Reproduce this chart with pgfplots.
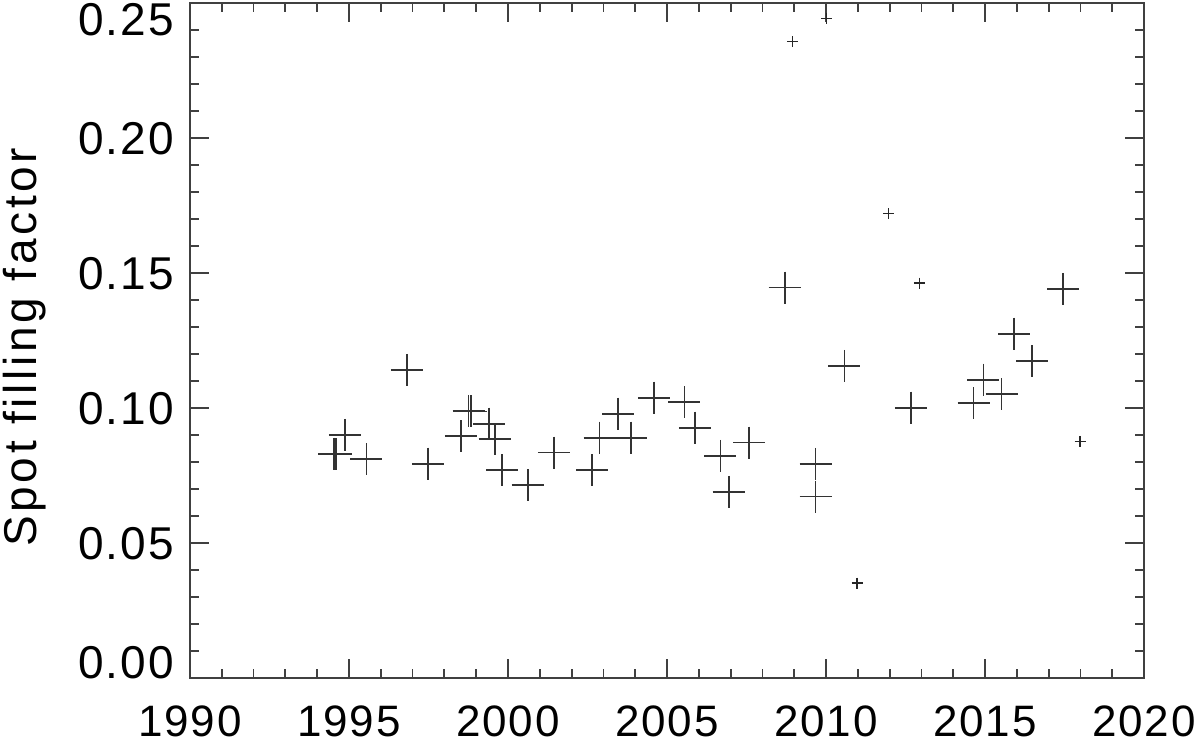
\documentclass[border=0pt]{standalone}
\usepackage{fontspec}
\setmainfont{Liberation Sans}[LetterSpace=4]
\newfontfamily\ylabfont{Liberation Sans}[LetterSpace=8]
\usepackage{pgfplots}
\pgfplotsset{compat=1.18}

% small tables, one per marker size
\pgfplotstableread{
x        y
1994.53  0.0831
1994.60  0.0829
1994.87  0.0900
1995.55  0.0811
1996.82  0.1141
1997.48  0.0794
1998.52  0.0895
1998.76  0.0989
1998.83  0.0987
1999.41  0.0942
1999.58  0.0884
1999.82  0.0769
2000.62  0.0714
2001.44  0.0835
2002.65  0.0770
2002.88  0.0890
2003.46  0.0979
2003.86  0.0890
2004.59  0.1038
2005.55  0.1021
2005.88  0.0927
2006.68  0.0823
2006.94  0.0689
2007.58  0.0872
2008.70  0.1446
2009.67  0.0793
2009.67  0.0672
2010.58  0.1156
2012.67  0.1001
2014.64  0.1017
2014.95  0.1105
2015.52  0.1051
2015.92  0.1275
2016.49  0.1174
2017.46  0.1441
}\bigcross

\pgfplotstableread{
x        y
2008.95  0.2357
2010.02  0.2443
2010.98  0.0351
2011.97  0.1720
2012.94  0.1462
2017.99  0.0876
}\smallcross

\begin{document}
\begin{tikzpicture}
\begin{axis}[
  name=ax, at={(0,0)}, anchor=south west,
  scale only axis, width=477pt, height=337.5pt,
  xmin=1990, xmax=2020, ymin=0, ymax=0.25,
  xtick={1990,1995,2000,2005,2010,2015,2020},
  xticklabels={1990,1995,2000,2005,2010,2015,2020},
  ytick={0,0.05,0.10,0.15,0.20,0.25},
  yticklabels={\smash{\raisebox{-0.2pt}{0.00}},
               \smash{\raisebox{-8.2pt}{0.05}},
               \smash{\raisebox{-8.2pt}{0.10}},
               \smash{\raisebox{-8.2pt}{0.15}},
               \smash{\raisebox{-8.2pt}{0.20}},
               \smash{\raisebox{-16.2pt}{0.25}}},
  minor x tick num=4, minor y tick num=4,
  tick align=inside,
  major tick length=9.5pt, minor tick length=4.5pt,
  axis line style={black!75, line width=1pt},
  every tick/.style={black!75, line width=0.9pt},
  font=\fontsize{23}{27}\selectfont,
  xticklabel style={anchor=north, inner sep=0pt, yshift=-13.5pt,
    font=\fontsize{22}{26}\selectfont},
  yticklabel style={anchor=east, inner sep=0pt, xshift=-8pt},
  ylabel={\ylabfont Spot filling factor},
  every axis y label/.style={at={(axis description cs:-0.196,0.49)},
    rotate=90, anchor=north, inner sep=0pt},
]
\addplot[only marks, mark=+, mark size=8pt, black!80,
  mark options={line width=0.9pt}] table[x=x, y=y] {\bigcross};
\addplot[only marks, mark=+, mark size=2.75pt, black!85,
  mark options={line width=0.8pt}] table[x=x, y=y] {\smallcross};
\end{axis}
\pgfresetboundingbox
\path ([shift={(-95pt,-34.5pt)}]ax.south west) rectangle ([shift={(28pt,1.5pt)}]ax.north east);
\end{tikzpicture}
\end{document}
